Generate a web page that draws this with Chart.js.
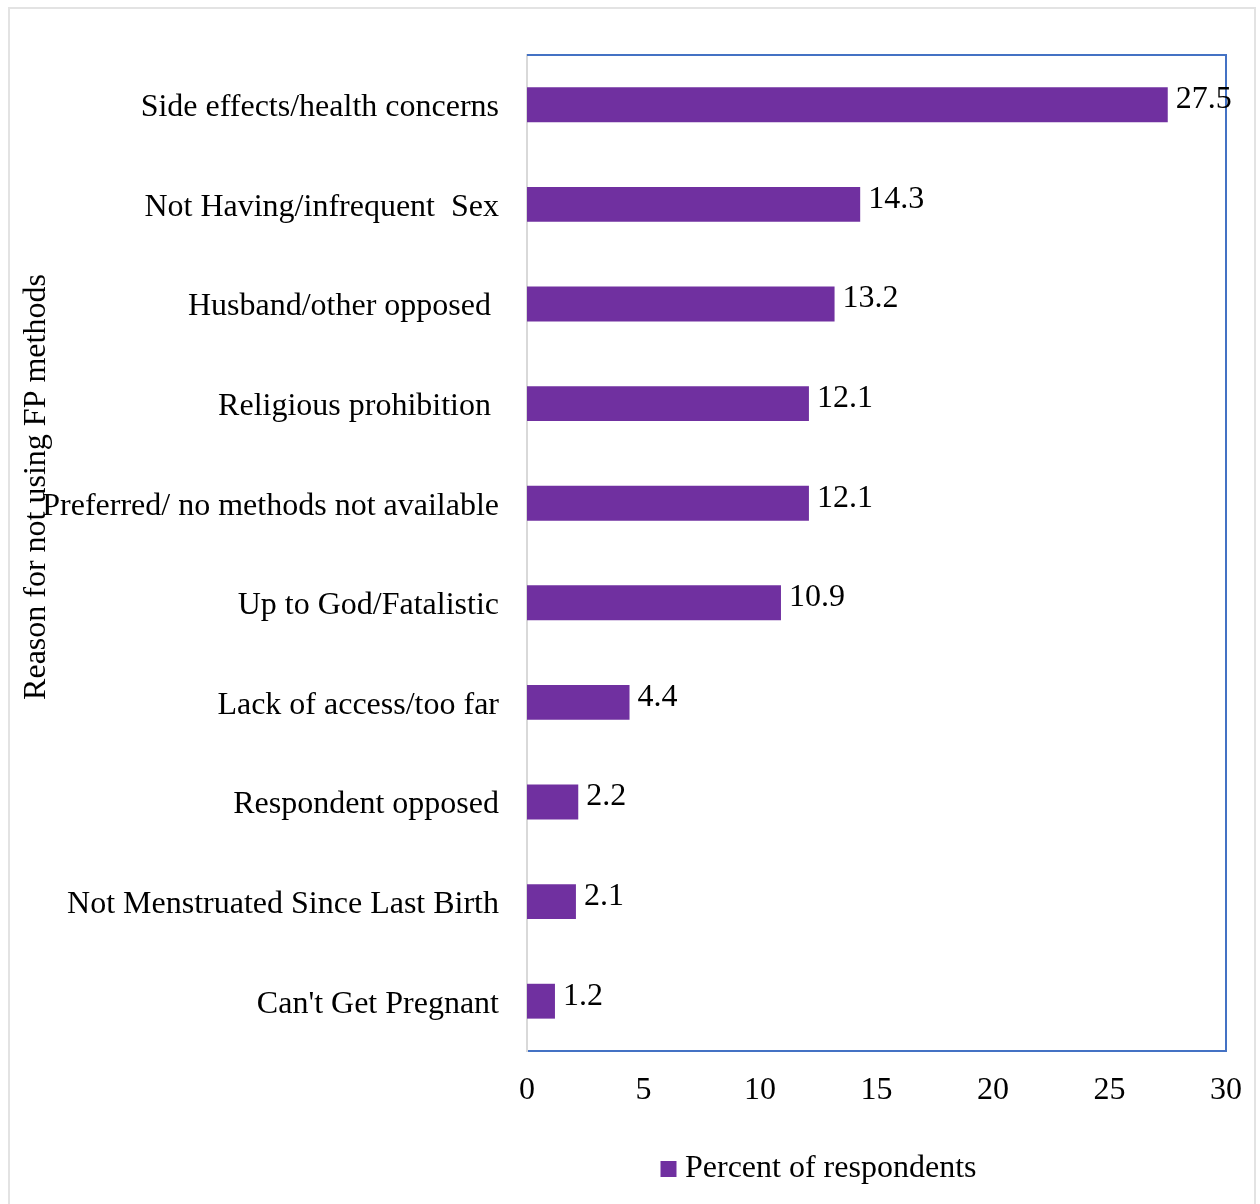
<!DOCTYPE html>
<html>
<head>
<meta charset="utf-8">
<script src="https://cdn.jsdelivr.net/npm/chart.js@4.4.1/dist/chart.umd.min.js"></script>
<style>
    html, body { margin: 0; padding: 0; background: #fff; }
    #frame {
        position: absolute;
        left: 8px;
        top: 7px;
        width: 1248px;
        height: 1240px;
        border: 2px solid #e3e3e3;
        box-sizing: border-box;
    }
    #wrap {
        position: absolute;
        left: 0;
        top: 0;
        width: 1260px;
        height: 1204px;
    }
</style>
</head>
<body>
<div id="frame"></div>
<div id="wrap"><canvas id="chart"></canvas></div>
<script>
const reasons = [
    'Side effects/health concerns',
    'Not Having/infrequent  Sex',
    'Husband/other opposed ',
    'Religious prohibition ',
    'Preferred/ no methods not available',
    'Up to God/Fatalistic',
    'Lack of access/too far',
    'Respondent opposed',
    'Not Menstruated Since Last Birth',
    "Can't Get Pregnant"
];
const percents = [27.5, 14.3, 13.2, 12.1, 12.1, 10.9, 4.4, 2.2, 2.1, 1.2];
const seriesName = 'Percent of respondents';
const axisTitle = 'Reason for not using FP methods';

const FONT = '"Liberation Serif", "Times New Roman", serif';
const BAR_COLOR = '#7030a0';
const FRAME_BLUE = '#4472c4';

Chart.defaults.font.family = FONT;
Chart.defaults.font.size = 32;
Chart.defaults.color = '#000';

// top and right sides of the plot box (bottom comes from the x axis border)
const plotFrame = {
    id: 'plotFrame',
    beforeDatasetsDraw(chart) {
        const { ctx, chartArea: a } = chart;
        ctx.save();
        ctx.strokeStyle = FRAME_BLUE;
        ctx.lineWidth = 2;
        ctx.beginPath();
        ctx.moveTo(a.left, a.top);
        ctx.lineTo(a.right, a.top);
        ctx.lineTo(a.right, a.bottom);
        ctx.stroke();
        ctx.restore();
    }
};

const valueLabels = {
    id: 'valueLabels',
    afterDatasetsDraw(chart) {
        const ctx = chart.ctx;
        const meta = chart.getDatasetMeta(0);
        ctx.save();
        ctx.font = '32px ' + FONT;
        ctx.fillStyle = '#000';
        ctx.textAlign = 'left';
        ctx.textBaseline = 'middle';
        meta.data.forEach((bar, i) => {
            ctx.fillText(String(percents[i]), bar.x + 8, bar.y - 5);
        });
        ctx.restore();
    }
};

// rotated y title, sits a bit above the middle of the plot like the original
const sideTitle = {
    id: 'sideTitle',
    afterDraw(chart) {
        const { ctx, chartArea: a } = chart;
        ctx.save();
        ctx.translate(37, (a.top + a.bottom) / 2 - 66);
        ctx.rotate(-Math.PI / 2);
        ctx.font = '32px ' + FONT;
        ctx.fillStyle = '#000';
        ctx.textAlign = 'center';
        ctx.textBaseline = 'middle';
        ctx.fillText(axisTitle, 0, 0);
        ctx.restore();
    }
};

// legend is not centred on the canvas in the original
const legendPlace = {
    id: 'legendPlace',
    afterLayout(chart) {
        const lg = chart.legend;
        const w = lg.right - lg.left;
        lg.left = 658;
        lg.right = lg.left + w;
    }
};

new Chart(document.getElementById('chart'), {
    type: 'bar',
    data: {
        labels: reasons,
        datasets: [{
            label: seriesName,
            data: percents,
            backgroundColor: BAR_COLOR,
            borderWidth: 0,
            barPercentage: 0.35,
            categoryPercentage: 1
        }]
    },
    options: {
        indexAxis: 'y',
        responsive: true,
        maintainAspectRatio: false,
        animation: false,
        layout: {
            padding: { left: 0, top: 55, right: 34, bottom: 9 }
        },
        scales: {
            x: {
                min: 0,
                max: 30,
                ticks: { stepSize: 5, padding: 12 },
                grid: { display: false },
                border: { display: true, color: FRAME_BLUE, width: 2 },
                afterFit(scale) { scale.height = 92; }
            },
            y: {
                ticks: { padding: 20, labelOffset: 3 },
                grid: { display: false },
                border: { display: true, color: '#d9d9d9', width: 2 },
                afterFit(scale) { scale.width = 527; }
            }
        },
        plugins: {
            tooltip: { enabled: false },
            legend: {
                position: 'bottom',
                align: 'start',
                labels: {
                    usePointStyle: true,
                    pointStyle: 'rect',
                    boxWidth: 1,
                    boxHeight: 16,
                    padding: 10,
                    color: '#000',
                    font: { size: 32 }
                }
            }
        }
    },
    plugins: [plotFrame, valueLabels, sideTitle, legendPlace]
});
</script>
</body>
</html>
